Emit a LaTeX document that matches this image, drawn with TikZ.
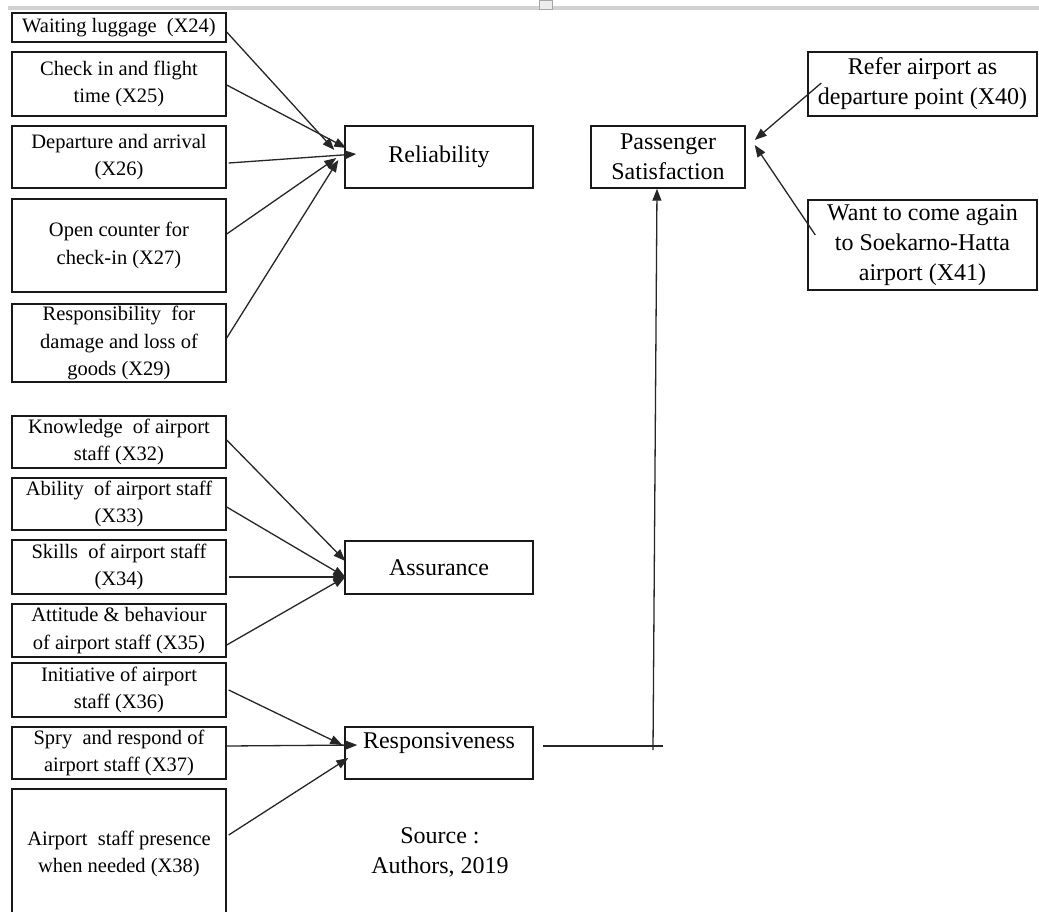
\documentclass[tikz,border=0pt]{standalone}
\usepackage{fontspec}
\setmainfont{Liberation Serif}
\usetikzlibrary{arrows.meta,calc}
\tikzset{
  box/.style={draw=black!90, line width=1.4pt, inner sep=0pt, align=center, anchor=center},
  small/.style={font=\fontsize{20.5}{27.5}\selectfont},
  large/.style={font=\fontsize{24}{30}\selectfont},
  leaf/.style={box, small, minimum width=214pt},
  factor/.style={box, large, minimum width=188pt},
  outcome/.style={box, large, minimum width=229pt},
  plain/.style={draw=black!85, line width=1.3pt},
  link/.style={plain, -{Triangle[length=12pt,width=9pt]}},
}
\begin{document}
\begin{tikzpicture}[x=1pt,y=-1pt]
\clip (0,0) rectangle (1039,911);
\fill[white] (0,0) rectangle (1039,911);
% ruler strip along the top edge
\fill[gray!35] (8,6) rectangle (1039,10);
\draw[gray!70, fill=gray!15, line width=0.8pt] (539,0) rectangle (552,9);

% indicator boxes, left column
\node[leaf, minimum height=29pt]  (x24) at (119,27.5)  {Waiting luggage\ \ (X24)};
\node[leaf, minimum height=64pt]  (x25) at (119,84)    {Check in and flight\\time (X25)};
\node[leaf, minimum height=62pt]  (x26) at (119,157)   {Departure and arrival\\(X26)};
\node[leaf, minimum height=93pt]  (x27) at (119,245.5) {Open counter for\\check-in (X27)};
\node[leaf, minimum height=78pt]  (x29) at (119,343)   {Responsibility\ \ for\\damage and loss of\\goods (X29)};
\node[leaf, minimum height=52pt]  (x32) at (119,442)   {Knowledge\ \ of airport\\staff (X32)};
\node[leaf, minimum height=52pt]  (x33) at (119,504)   {Ability\ \ of airport staff\\(X33)};
\node[leaf, minimum height=54pt]  (x34) at (119,567)   {Skills\ \ of airport staff\\(X34)};
\node[leaf, minimum height=53pt]  (x35) at (119,630.5) {Attitude \& behaviour\\of airport staff (X35)};
\node[leaf, minimum height=54pt]  (x36) at (119,690)   {Initiative of airport\\staff (X36)};
\node[leaf, minimum height=52pt]  (x37) at (119,753)   {Spry\ \ and respond of\\airport staff (X37)};
\node[leaf, minimum height=130pt] (x38) at (119,854)   {Airport\ \ staff presence\\when needed (X38)};

% latent factors
\node[factor, minimum height=62pt] (rel)  at (439,157)   {Reliability};
\node[factor, minimum height=53pt] (ass)  at (439,567.5) {Assurance};
\node[factor, minimum height=52pt] (resp) at (439,753)   {Responsiveness\\[-6pt]\mbox{}};
\node[box, large, minimum width=154pt, minimum height=62pt] (ps) at (668,157) {Passenger\\Satisfaction};

% satisfaction indicators, right column
\node[outcome, minimum height=64pt] (x40) at (922.5,84)  {Refer airport as\\departure point (X40)};
\node[outcome, minimum height=90pt] (x41) at (922.5,245) {Want to come again\\to Soekarno-Hatta\\airport (X41)};

\node[large, align=center] (src) at (440,852) {Source :\\Authors, 2019};

% reliability indicators
\draw[link] ($(x24.east)+(0,4.5)$)  -- ($(rel.west)+(-10,-7)$);
\draw[link] ($(x25.east)+(0,1)$)    -- ($(rel.west)+(2,-9)$);
\draw[link] ($(x26.east)+(2,6)$)    -- ($(rel.west)+(12,-3)$);
\draw[link] ($(x27.east)+(0,-11.5)$) -- ($(rel.west)+(-8,1)$);
\draw[link] ($(x29.east)+(0,-5)$)   -- ($(rel.west)+(-6,3)$);

% assurance indicators
\draw[link] ($(x32.east)+(0,-2)$)   -- ($(ass.west)+(1,-6.5)$);
\draw[link] ($(x33.east)+(0,3)$)    -- ($(ass.west)+(1,9.5)$);
\draw[link] ($(x34.east)+(2,10)$)   -- ($(ass.west)+(1,9.5)$);
\draw[link] ($(x35.east)+(0,14.5)$) -- ($(ass.west)+(1,9.5)$);

% responsiveness indicators
\draw[link] ($(x36.east)+(2,0)$)    -- ($(resp.west)+(-2,-8)$);
\draw[link] ($(x37.east)+(0,-7)$)   -- ($(resp.west)+(13,-8)$);
\draw[link] ($(x38.east)+(2,-19)$)  -- ($(resp.west)+(4,5)$);

% responsiveness to satisfaction
\coordinate (hend)  at (663,746);
\coordinate (cross) at (653,750);
\draw[plain] ($(resp.east)+(9,-7)$) -- (hend);
\draw[link] (cross) -- ($(ps.south)+(-11,0)$);

% satisfaction indicators
\draw[link] ($(x40.west)+(14,-1)$)  -- ($(ps.east)+(9,-17)$);
\draw[link] ($(x41.west)+(8,-10)$)  -- ($(ps.east)+(9,-12)$);
\end{tikzpicture}
\end{document}
